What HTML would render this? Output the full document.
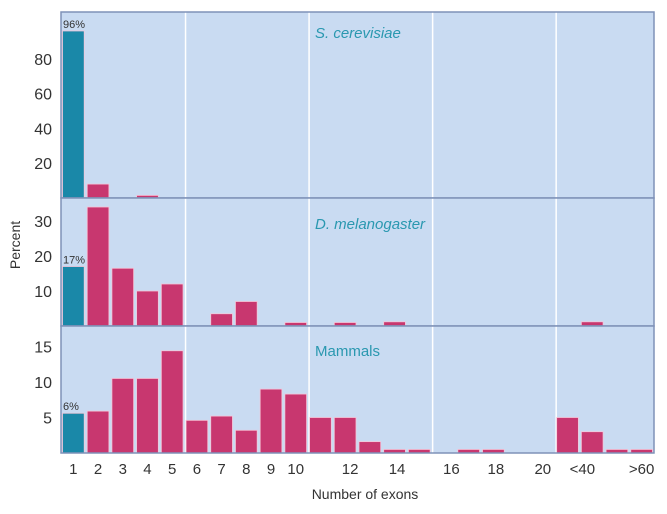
<!DOCTYPE html>
<html><head><meta charset="utf-8"><style>
body{margin:0;background:#fff;width:667px;height:509px;overflow:hidden}
svg{font-family:"Liberation Sans",sans-serif}
</style></head><body>
<svg id="chart" width="667" height="509" viewBox="0 0 667 509"></svg>
<script>
const categories=["1","2","3","4","5","6","7","8","9","10","11","12","13","14","15","16","17","18","19","20","21-40a","21-40b","41-60",">60"];
const yeastValues=[96,8,0,1.5,0,0,0,0,0,0,0,0,0,0,0,0,0,0,0,0,0,0,0,0];
const flyValues=[17,34,16.5,10,12,0,3.5,7,0,1,0,1,0,1.2,0,0,0,0,0,0,0,1.2,0,0];
const mammalValues=[5.6,5.9,10.5,10.5,14.4,4.6,5.2,3.2,9,8.3,5,5,1.6,0.5,0.5,0,0.5,0.5,0,0,5,3,0.5,0.5];
const xTickLabels=["1","2","3","4","5","6","7","8","9","10","12","14","16","18","20","<40",">60"];
const xTickPos=[0,1,2,3,4,5,6,7,8,9,11.2,13.1,15.3,17.1,19.0,20.6,23.0];
const yeastTicks=[20,40,60,80];
const flyTicks=[10,20,30];
const mammalTicks=[5,10,15];
const pctLabels=["96%","17%","6%"];

const svg=document.getElementById('chart');
const NS="http://www.w3.org/2000/svg";
function mk(tag,attrs){const e=document.createElementNS(NS,tag);for(const k in attrs)e.setAttribute(k,attrs[k]);svg.appendChild(e);return e;}
const X0=61,X1=654,SW=(X1-X0)/24;
function xPos(i){return X0+i*SW;}
const panels=[
 {name:'yeast',vals:yeastValues,ticks:yeastTicks,top:12,bottom:198,scale:1.74,title:'S. cerevisiae',ty:38,italic:true},
 {name:'fly',vals:flyValues,ticks:flyTicks,top:198,bottom:326,scale:3.5,title:'D. melanogaster',ty:229,italic:true},
 {name:'mammal',vals:mammalValues,ticks:mammalTicks,top:326,bottom:453,scale:7.1,title:'Mammals',ty:356,italic:false}
];
panels.forEach((p,pi)=>{
 let r=mk('rect',{x:X0,y:p.top,width:X1-X0,height:p.bottom-p.top,fill:'#c9dbf2'});
 
 
 [5,10,15,20].forEach(k=>{
  let l=mk('line',{x1:xPos(k)+1,x2:xPos(k)+1,y1:p.top,y2:p.bottom,stroke:'#fff','stroke-width':1.5});
  
  
 });
 function yS(v){return p.bottom-v*p.scale;}
 p.vals.forEach((v,i)=>{
  if(v<=0)return;
  let b=mk('rect',{x:xPos(i)+1.5,y:yS(v),width:SW-3,height:v*p.scale,fill:i===0?'#1a88a8':'#c8376f',stroke:'#f4c6d8','stroke-width':0.8});
  
  
 });
 p.ticks.forEach(t=>{
  let tx=mk('text',{x:52,y:yS(t)+6,'text-anchor':'end','font-size':16,fill:'#333'});
  tx.textContent=t;
  
  
 });
 let pl=mk('text',{x:63,y:yS(p.vals[0])-3,'font-size':11,fill:'#333'});
 pl.textContent=pctLabels[pi];
 
 
 let tt=mk('text',{x:315,y:p.ty,'font-size':15,fill:'#2a98b0','font-style':p.italic?'italic':'normal'});
 tt.textContent=p.title;
 
 
 let bd=mk('rect',{x:X0,y:p.top,width:X1-X0,height:p.bottom-p.top,fill:'none',stroke:'#7f92b8','stroke-width':1.5});
 
 
});
xTickLabels.forEach((s,i)=>{
 let t=mk('text',{x:xPos(xTickPos[i])+SW/2,y:474,'text-anchor':'middle','font-size':15,fill:'#333'});
 t.textContent=s;
 
 
});
let xt=mk('text',{x:365,y:499,'text-anchor':'middle','font-size':14,fill:'#333'});
xt.textContent='Number of exons';


let yt=mk('text',{x:20,y:245,'text-anchor':'middle','font-size':14,fill:'#333',transform:'rotate(-90 20 245)'});
yt.textContent='Percent';


</script>
</body></html>
